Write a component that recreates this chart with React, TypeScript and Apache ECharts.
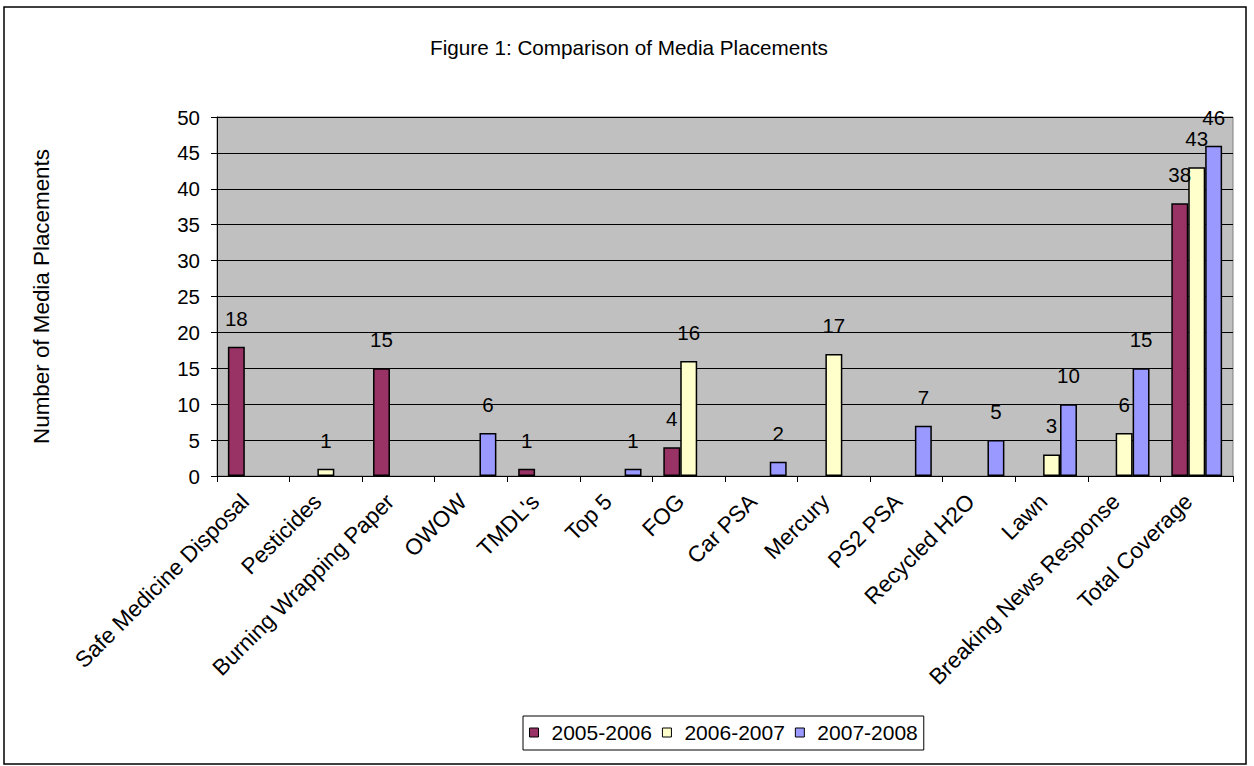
import React, { useEffect, useRef } from "react";
import * as echarts from "echarts";

const categories = [
  "Safe Medicine Disposal",
  "Pesticides",
  "Burning Wrapping Paper",
  "OWOW",
  "TMDL's",
  "Top 5",
  "FOG",
  "Car PSA",
  "Mercury",
  "PS2 PSA",
  "Recycled H2O",
  "Lawn",
  "Breaking News Response",
  "Total Coverage",
];

const seriesNames = ["2005-2006", "2006-2007", "2007-2008"];

const values2005 = [18, null, 15, null, 1, null, 4, null, null, null, null, null, null, 38];
const values2006 = [null, 1, null, null, null, null, 16, null, 17, null, null, 3, 6, 43];
const values2007 = [null, null, null, 6, null, 1, null, 2, null, 7, 5, 10, 15, 46];

const seriesColors = ["#993366", "#FFFFCC", "#9999FF"];

const yTicks = { min: 0, max: 50, interval: 5 };

const FONT = "'Liberation Sans', Arial, sans-serif";

export default function App() {
  const ref = useRef<HTMLDivElement>(null);

  useEffect(() => {
    if (!ref.current) return;
    const chart = echarts.init(ref.current, null, { renderer: "svg" });
    const data = [values2005, values2006, values2007];

    chart.setOption({
      animation: false,
      backgroundColor: "#ffffff",
      textStyle: { fontFamily: FONT, color: "#000" },
      title: {
        text: "Figure 1: Comparison of Media Placements",
        left: 425,
        top: 32,
        textStyle: { fontFamily: FONT, fontSize: 20.7, fontWeight: "normal", color: "#000" },
      },
      graphic: [
        {
          type: "rect",
          shape: { x: 4, y: 7, width: 1242, height: 757 },
          style: { fill: "none", stroke: "#000", lineWidth: 1.5 },
          silent: true,
          z: -1,
        },
      ],
      legend: {
        data: seriesNames,
        left: 523,
        top: 716,
        orient: "horizontal",
        padding: [6, 6, 7, 6],
        itemGap: 10,
        itemWidth: 9,
        itemHeight: 9,
        borderColor: "#000",
        borderWidth: 1,
        icon: "rect",
        itemStyle: { borderColor: "#000", borderWidth: 1 },
        textStyle: { fontFamily: FONT, fontSize: 21, color: "#000", padding: [0, 0, 0, 8] },
      },
      grid: {
        left: 217,
        top: 117,
        right: 21,
        bottom: 290,
        show: true,
        backgroundColor: "#C0C0C0",
        borderColor: "#808080",
        borderWidth: 1,
      },
      xAxis: {
        type: "category",
        data: categories,
        boundaryGap: true,
        axisLine: { show: true, lineStyle: { color: "#000", width: 1 } },
        axisTick: { show: true, alignWithLabel: false, length: 6, lineStyle: { color: "#000" } },
        axisLabel: {
          interval: 0,
          rotate: 45,
          margin: 30,
          verticalAlign: "bottom",
          fontSize: 22.5,
          fontFamily: FONT,
          color: "#000",
        },
      },
      yAxis: {
        type: "value",
        min: yTicks.min,
        max: yTicks.max,
        interval: yTicks.interval,
        name: "Number of Media Placements",
        nameLocation: "middle",
        nameGap: 165,
        nameTextStyle: { fontFamily: FONT, fontSize: 22.4, color: "#000" },
        axisLine: { show: true, lineStyle: { color: "#000", width: 1 } },
        axisTick: { show: true, length: 6, lineStyle: { color: "#000" } },
        axisLabel: { margin: 17, fontSize: 20.5, fontFamily: FONT, color: "#000" },
        splitLine: { show: true, lineStyle: { color: "#000", width: 1 } },
      },
      series: seriesNames.map((name, i) => ({
        name,
        type: "bar",
        data: data[i],
        barGap: "0%",
        barCategoryGap: "30%",
        itemStyle: { color: seriesColors[i], borderColor: "#000", borderWidth: 1.5 },
        label: {
          show: true,
          position: "top",
          distance: 18,
          fontSize: 20.5,
          fontFamily: FONT,
          color: "#000",
        },
      })),
    });

    return () => chart.dispose();
  }, []);

  return (
    <div
      ref={ref}
      style={{ position: "absolute", left: 0, top: 0, width: 1254, height: 766, background: "#fff" }}
    />
  );
}
